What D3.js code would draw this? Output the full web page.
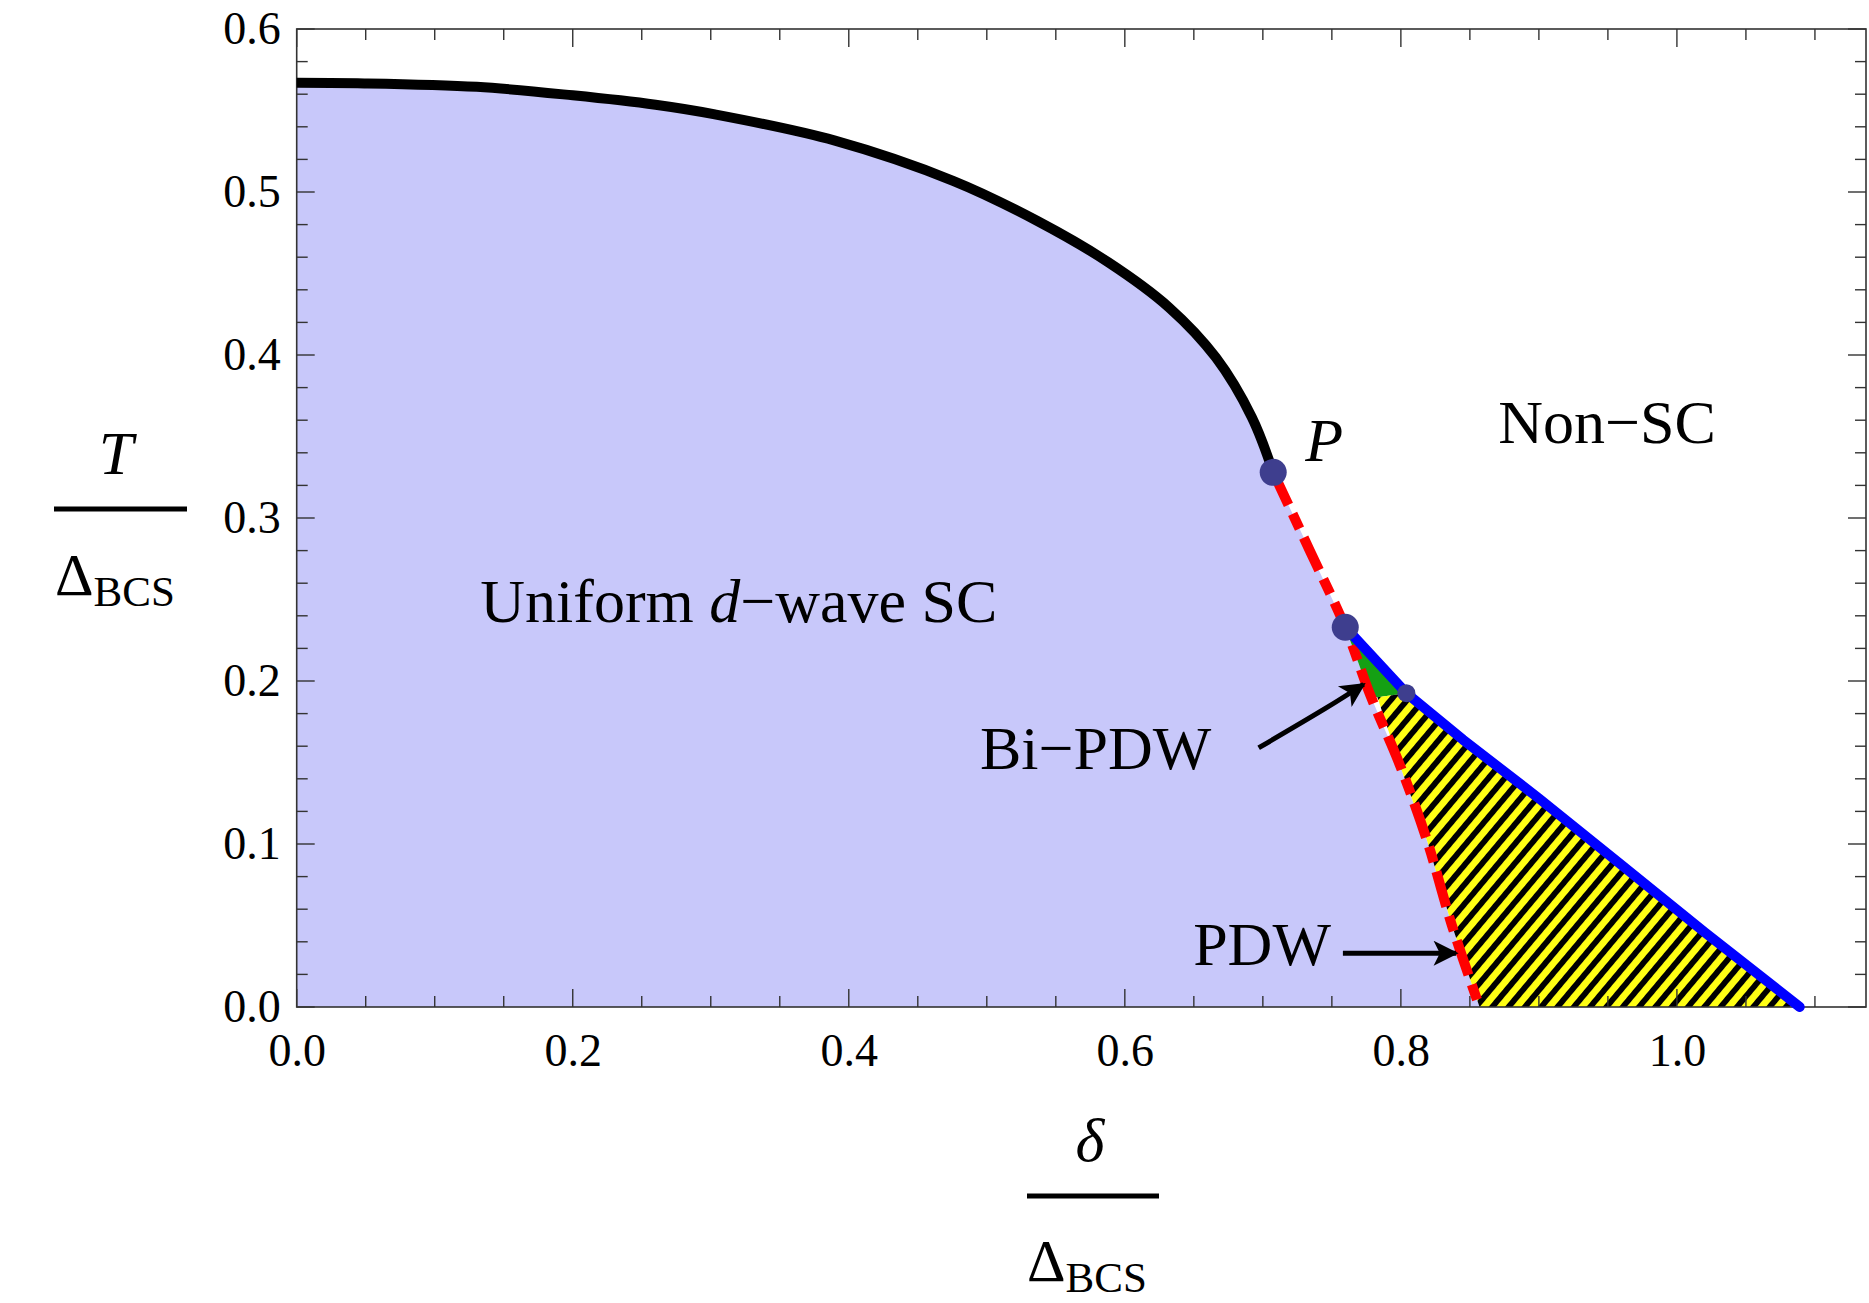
<!DOCTYPE html>
<html>
<head>
<meta charset="utf-8">
<script src="https://cdn.jsdelivr.net/npm/d3@7"></script>
<style>
  html, body { margin: 0; padding: 0; background: #ffffff; }
  svg { display: block; }
  text { font-family: "Liberation Serif", "Times New Roman", serif; fill: #000; }
</style>
</head>
<body>
<svg id="chart" width="1869" height="1303"></svg>
<script>
// ---------------- data ----------------
// uniform d-wave SC transition line (black, solid)
const scDelta = [0, 0.044, 0.1305, 0.2, 0.26, 0.303, 0.39, 0.476, 0.536, 0.588, 0.632, 0.666, 0.692, 0.7075];
const scT     = [0.567, 0.5667, 0.5645, 0.5593, 0.5535, 0.5476, 0.5315, 0.5067, 0.4825, 0.4569, 0.4292, 0.3984, 0.3618, 0.328];
// first-order line (red, dashed) from P to T = 0
const redDelta = [0.7075, 0.734, 0.7597, 0.778, 0.799, 0.819, 0.837, 0.857];
const redT     = [0.328, 0.280, 0.233, 0.191, 0.149, 0.102, 0.050, 0.0];
// PDW transition line (blue)
const blueDelta = [0.7597, 0.804, 0.845, 0.90, 0.96, 1.02, 1.089];
const blueT     = [0.233, 0.1925, 0.164, 0.128, 0.087, 0.046, 0.0];
// special points
const pointDelta = [0.7075, 0.7597, 0.804];
const pointT     = [0.328, 0.233, 0.1925];
const pointSize  = ["big", "big", "small"];
// Bi-PDW (green) region boundary on the red line
const biPdwRedEnd = [0.783, 0.190];
// axes
const xMax = 1.137, yMax = 0.6;
const xMajorTicks = [0, 0.2, 0.4, 0.6, 0.8, 1.0];
const xMinorTicks = [0.05, 0.1, 0.15, 0.25, 0.3, 0.35, 0.45, 0.5, 0.55, 0.65, 0.7, 0.75, 0.85, 0.9, 0.95, 1.05, 1.1];
const yMajorTicks = [0, 0.1, 0.2, 0.3, 0.4, 0.5, 0.6];
const yMinorTicks = [0.02, 0.04, 0.06, 0.08, 0.12, 0.14, 0.16, 0.18, 0.22, 0.24, 0.26, 0.28,
                     0.32, 0.34, 0.36, 0.38, 0.42, 0.44, 0.46, 0.48, 0.52, 0.54, 0.56, 0.58];
// annotations (data coordinates)
const labelText  = ["P", "Non−SC", "Bi−PDW", "PDW"];
const labelDelta = [0.7307, 0.8705, 0.495, 0.6495];
const labelT     = [0.335, 0.346, 0.146, 0.0258];
const uniformLabel = [0.133, 0.236];
const arrowBi  = [[0.697, 0.159], [0.745, 0.183], [0.773, 0.198]];
const arrowPdw = [[0.758, 0.033], [0.840, 0.033]];

// ---------------- layout ----------------
const L = 296.7, R = 1866, T0 = 29, B = 1007;
const svg = d3.select("#chart");
const x = d3.scaleLinear().domain([0, xMax]).range([L, R]);
const y = d3.scaleLinear().domain([0, yMax]).range([B, T0]);

const defs = svg.append("defs");
const pat = defs.append("pattern").attr("id", "hatch")
  .attr("patternUnits", "userSpaceOnUse").attr("width", 12.5).attr("height", 12.5)
  .attr("patternTransform", "rotate(40)");
pat.append("rect").attr("width", 12.5).attr("height", 12.5).attr("fill", "#ffff14");
pat.append("rect").attr("width", 5.8).attr("height", 12.5).attr("fill", "#000");

const marker = defs.append("marker").attr("id", "arrowhead")
  .attr("viewBox", "0 0 10 10").attr("refX", 9).attr("refY", 5)
  .attr("markerWidth", 6.5).attr("markerHeight", 5).attr("markerUnits", "strokeWidth")
  .attr("orient", "auto");
marker.append("path").attr("d", "M0,0 L10,5 L0,10 L2.5,5 Z").attr("fill", "#000");

const sc   = scDelta.map((d, i) => [d, scT[i]]);
const red  = redDelta.map((d, i) => [d, redT[i]]);
const blue = blueDelta.map((d, i) => [d, blueT[i]]);
const line = d3.line().x(d => x(d[0])).y(d => y(d[1]));
const smooth = d3.line().x(d => x(d[0])).y(d => y(d[1])).curve(d3.curveCatmullRom);

// uniform SC region
const scRegion = [[0, 0]].concat(sc, red.slice(1));
svg.append("path").attr("d", line(scRegion) + "Z").attr("fill", "rgb(200,200,250)");

// Bi-PDW region (green)
const greenRegion = [blue[0], blue[1], biPdwRedEnd, red[3], red[2]];
svg.append("path").attr("d", line(greenRegion) + "Z").attr("fill", "#14a014");

// PDW region (hatched)
const pdwRegion = blue.slice(1).concat([[redDelta[redDelta.length - 1], 0]],
  red.slice(3).reverse().slice(1).filter(p => p[1] < biPdwRedEnd[1]), [biPdwRedEnd]);
svg.append("path").attr("d", line(pdwRegion) + "Z").attr("fill", "url(#hatch)");

// frame and ticks
const tickG = svg.append("g").attr("stroke", "#333").attr("stroke-width", 1.4);
function ticks(vals, len) {
  vals.forEach(v => {
    tickG.append("line").attr("x1", x(v)).attr("x2", x(v)).attr("y1", B).attr("y2", B - len);
    tickG.append("line").attr("x1", x(v)).attr("x2", x(v)).attr("y1", T0).attr("y2", T0 + len);
  });
}
function yticks(vals, len) {
  vals.forEach(v => {
    tickG.append("line").attr("y1", y(v)).attr("y2", y(v)).attr("x1", L).attr("x2", L + len);
    tickG.append("line").attr("y1", y(v)).attr("y2", y(v)).attr("x1", R).attr("x2", R - len);
  });
}
ticks(xMajorTicks, 18); ticks(xMinorTicks, 11);
yticks(yMajorTicks, 18); yticks(yMinorTicks, 11);

svg.append("rect").attr("x", L).attr("y", T0).attr("width", R - L).attr("height", B - T0)
  .attr("fill", "none").attr("stroke", "#333").attr("stroke-width", 1.6);

// tick labels via d3 axes
const fmt = d3.format(".1f");
const xAxis = svg.append("g").attr("transform", `translate(0,${B})`)
  .call(d3.axisBottom(x).tickValues(xMajorTicks).tickFormat(fmt).tickSize(0).tickPadding(26));
const yAxis = svg.append("g").attr("transform", `translate(${L},0)`)
  .call(d3.axisLeft(y).tickValues(yMajorTicks).tickFormat(fmt).tickSize(0).tickPadding(16));
[xAxis, yAxis].forEach(g => {
  g.select(".domain").remove();
  g.selectAll("text").attr("font-size", 46).attr("font-family", "Liberation Serif").attr("fill", "#000");
});

// lines
svg.append("path").attr("d", smooth(sc)).attr("fill", "none").attr("stroke", "#000")
  .attr("stroke-width", 10).attr("stroke-linecap", "butt");
svg.append("path").attr("d", smooth(red)).attr("fill", "none").attr("stroke", "#ff0000")
  .attr("stroke-width", 10).attr("stroke-dasharray", "36,10,16,10");
svg.append("path").attr("d", line(blue)).attr("fill", "none").attr("stroke", "#0000ff")
  .attr("stroke-width", 10).attr("stroke-linecap", "round").attr("stroke-linejoin", "round");

// points
svg.selectAll("circle.pt").data(pointDelta).enter().append("circle")
  .attr("cx", d => x(d)).attr("cy", (d, i) => y(pointT[i]))
  .attr("r", (d, i) => pointSize[i] === "big" ? 13.5 : 9)
  .attr("fill", "rgb(62,62,142)");

// arrows
svg.append("path").attr("d", d3.line().x(d => x(d[0])).y(d => y(d[1])).curve(d3.curveNatural)(arrowBi))
  .attr("fill", "none").attr("stroke", "#000").attr("stroke-width", 5).attr("marker-end", "url(#arrowhead)");
svg.append("path").attr("d", line(arrowPdw))
  .attr("fill", "none").attr("stroke", "#000").attr("stroke-width", 5).attr("marker-end", "url(#arrowhead)");

// labels
labelText.forEach((t, i) => {
  svg.append("text").attr("x", x(labelDelta[i])).attr("y", y(labelT[i]))
    .attr("font-size", 62).attr("font-style", t === "P" ? "italic" : "normal").text(t);
});
const u = svg.append("text").attr("x", x(uniformLabel[0])).attr("y", y(uniformLabel[1])).attr("font-size", 62);
u.append("tspan").text("Uniform ");
u.append("tspan").attr("font-style", "italic").text("d");
u.append("tspan").text("−wave SC");

// y-axis label  T / Δ_BCS
svg.append("text").attr("x", 116).attr("y", 474).attr("font-size", 62).attr("font-style", "italic")
  .attr("text-anchor", "middle").text("T");
svg.append("line").attr("x1", 54).attr("x2", 187).attr("y1", 509).attr("y2", 509)
  .attr("stroke", "#000").attr("stroke-width", 5);
const yl = svg.append("text").attr("x", 55).attr("y", 595).attr("font-size", 60);
yl.append("tspan").text("Δ");
yl.append("tspan").attr("font-size", 43).attr("dy", 11).text("BCS");

// x-axis label  δ / Δ_BCS
svg.append("text").attr("x", 1090).attr("y", 1161).attr("font-size", 62).attr("font-style", "italic")
  .attr("text-anchor", "middle").text("δ");
svg.append("line").attr("x1", 1027).attr("x2", 1159).attr("y1", 1196).attr("y2", 1196)
  .attr("stroke", "#000").attr("stroke-width", 5);
const xl = svg.append("text").attr("x", 1027).attr("y", 1281).attr("font-size", 60);
xl.append("tspan").text("Δ");
xl.append("tspan").attr("font-size", 43).attr("dy", 11).text("BCS");
</script>
</body>
</html>
